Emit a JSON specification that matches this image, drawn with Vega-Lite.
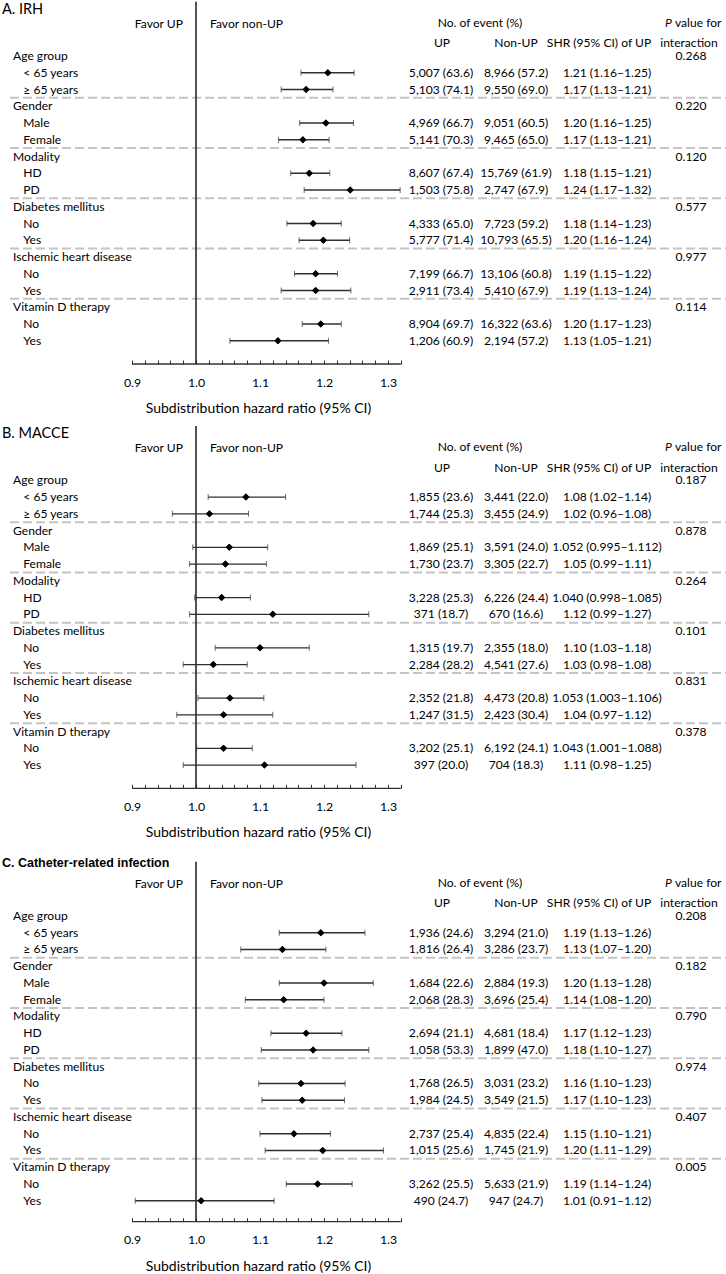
{
"$schema":"https://vega.github.io/schema/vega-lite/v6.json",
"padding":0,
"background":"white",
"spacing":61.3,
"bounds":"flush",
"config":{"view":{"stroke":null},"text":{"font":"Lato","fontSize":12.1,"baseline":"middle","color":"#000"},"axis":{"labelOverlap":false,"labelFlush":false,"grid":false,"domain":false,"ticks":true,"tickSize":-4,"tickColor":"#333","tickWidth":1,"labelPadding":16,"labelFont":"Lato","labelFontSize":12.3,"labelColor":"#000","titleFont":"Lato","titleFontSize":14,"titleFontWeight":"normal","titleColor":"#000","titlePadding":13}},
"datasets":{
"irh":[
{"k":0,"type":"group","label":"Age group","p":"0.268"},
{"k":1,"type":"sub","label":"< 65 years","up":"5,007 (63.6)","nonup":"8,966 (57.2)","shr":"1.21 (1.16–1.25)","est":1.206,"lo":1.164,"hi":1.247},
{"k":2,"type":"sub","label":"≥ 65 years","up":"5,103 (74.1)","nonup":"9,550 (69.0)","shr":"1.17 (1.13–1.21)","est":1.172,"lo":1.133,"hi":1.214},
{"k":3,"type":"group","label":"Gender","p":"0.220"},
{"k":4,"type":"sub","label":"Male","up":"4,969 (66.7)","nonup":"9,051 (60.5)","shr":"1.20 (1.16–1.25)","est":1.203,"lo":1.162,"hi":1.246},
{"k":5,"type":"sub","label":"Female","up":"5,141 (70.3)","nonup":"9,465 (65.0)","shr":"1.17 (1.13–1.21)","est":1.167,"lo":1.129,"hi":1.208},
{"k":6,"type":"group","label":"Modality","p":"0.120"},
{"k":7,"type":"sub","label":"HD","up":"8,607 (67.4)","nonup":"15,769 (61.9)","shr":"1.18 (1.15–1.21)","est":1.177,"lo":1.148,"hi":1.209},
{"k":8,"type":"sub","label":"PD","up":"1,503 (75.8)","nonup":"2,747 (67.9)","shr":"1.24 (1.17–1.32)","est":1.241,"lo":1.169,"hi":1.319},
{"k":9,"type":"group","label":"Diabetes mellitus","p":"0.577"},
{"k":10,"type":"sub","label":"No","up":"4,333 (65.0)","nonup":"7,723 (59.2)","shr":"1.18 (1.14–1.23)","est":1.183,"lo":1.142,"hi":1.227},
{"k":11,"type":"sub","label":"Yes","up":"5,777 (71.4)","nonup":"10,793 (65.5)","shr":"1.20 (1.16–1.24)","est":1.199,"lo":1.161,"hi":1.240},
{"k":12,"type":"group","label":"Ischemic heart disease","p":"0.977"},
{"k":13,"type":"sub","label":"No","up":"7,199 (66.7)","nonup":"13,106 (60.8)","shr":"1.19 (1.15–1.22)","est":1.187,"lo":1.154,"hi":1.221},
{"k":14,"type":"sub","label":"Yes","up":"2,911 (73.4)","nonup":"5,410 (67.9)","shr":"1.19 (1.13–1.24)","est":1.187,"lo":1.133,"hi":1.242},
{"k":15,"type":"group","label":"Vitamin D therapy","p":"0.114"},
{"k":16,"type":"sub","label":"No","up":"8,904 (69.7)","nonup":"16,322 (63.6)","shr":"1.20 (1.17–1.23)","est":1.195,"lo":1.166,"hi":1.227},
{"k":17,"type":"sub","label":"Yes","up":"1,206 (60.9)","nonup":"2,194 (57.2)","shr":"1.13 (1.05–1.21)","est":1.128,"lo":1.053,"hi":1.207}
],
"macce":[
{"k":0,"type":"group","label":"Age group","p":"0.187"},
{"k":1,"type":"sub","label":"< 65 years","up":"1,855 (23.6)","nonup":"3,441 (22.0)","shr":"1.08 (1.02–1.14)","est":1.078,"lo":1.019,"hi":1.140},
{"k":2,"type":"sub","label":"≥ 65 years","up":"1,744 (25.3)","nonup":"3,455 (24.9)","shr":"1.02 (0.96–1.08)","est":1.021,"lo":0.963,"hi":1.082},
{"k":3,"type":"group","label":"Gender","p":"0.878"},
{"k":4,"type":"sub","label":"Male","up":"1,869 (25.1)","nonup":"3,591 (24.0)","shr":"1.052 (0.995–1.112)","est":1.052,"lo":0.995,"hi":1.112},
{"k":5,"type":"sub","label":"Female","up":"1,730 (23.7)","nonup":"3,305 (22.7)","shr":"1.05 (0.99–1.11)","est":1.046,"lo":0.99,"hi":1.11},
{"k":6,"type":"group","label":"Modality","p":"0.264"},
{"k":7,"type":"sub","label":"HD","up":"3,228 (25.3)","nonup":"6,226 (24.4)","shr":"1.040 (0.998–1.085)","est":1.040,"lo":0.998,"hi":1.085},
{"k":8,"type":"sub","label":"PD","up":"371 (18.7)","nonup":"670 (16.6)","shr":"1.12 (0.99–1.27)","est":1.12,"lo":0.99,"hi":1.27},
{"k":9,"type":"group","label":"Diabetes mellitus","p":"0.101"},
{"k":10,"type":"sub","label":"No","up":"1,315 (19.7)","nonup":"2,355 (18.0)","shr":"1.10 (1.03–1.18)","est":1.10,"lo":1.03,"hi":1.177},
{"k":11,"type":"sub","label":"Yes","up":"2,284 (28.2)","nonup":"4,541 (27.6)","shr":"1.03 (0.98–1.08)","est":1.027,"lo":0.98,"hi":1.08},
{"k":12,"type":"group","label":"Ischemic heart disease","p":"0.831"},
{"k":13,"type":"sub","label":"No","up":"2,352 (21.8)","nonup":"4,473 (20.8)","shr":"1.053 (1.003–1.106)","est":1.053,"lo":1.003,"hi":1.106},
{"k":14,"type":"sub","label":"Yes","up":"1,247 (31.5)","nonup":"2,423 (30.4)","shr":"1.04 (0.97–1.12)","est":1.043,"lo":0.97,"hi":1.12},
{"k":15,"type":"group","label":"Vitamin D therapy","p":"0.378"},
{"k":16,"type":"sub","label":"No","up":"3,202 (25.1)","nonup":"6,192 (24.1)","shr":"1.043 (1.001–1.088)","est":1.043,"lo":1.001,"hi":1.088},
{"k":17,"type":"sub","label":"Yes","up":"397 (20.0)","nonup":"704 (18.3)","shr":"1.11 (0.98–1.25)","est":1.107,"lo":0.98,"hi":1.25}
],
"cri":[
{"k":0,"type":"group","label":"Age group","p":"0.208"},
{"k":1,"type":"sub","label":"< 65 years","up":"1,936 (24.6)","nonup":"3,294 (21.0)","shr":"1.19 (1.13–1.26)","est":1.195,"lo":1.130,"hi":1.264},
{"k":2,"type":"sub","label":"≥ 65 years","up":"1,816 (26.4)","nonup":"3,286 (23.7)","shr":"1.13 (1.07–1.20)","est":1.135,"lo":1.070,"hi":1.203},
{"k":3,"type":"group","label":"Gender","p":"0.182"},
{"k":4,"type":"sub","label":"Male","up":"1,684 (22.6)","nonup":"2,884 (19.3)","shr":"1.20 (1.13–1.28)","est":1.20,"lo":1.13,"hi":1.277},
{"k":5,"type":"sub","label":"Female","up":"2,068 (28.3)","nonup":"3,696 (25.4)","shr":"1.14 (1.08–1.20)","est":1.137,"lo":1.077,"hi":1.20},
{"k":6,"type":"group","label":"Modality","p":"0.790"},
{"k":7,"type":"sub","label":"HD","up":"2,694 (21.1)","nonup":"4,681 (18.4)","shr":"1.17 (1.12–1.23)","est":1.172,"lo":1.117,"hi":1.228},
{"k":8,"type":"sub","label":"PD","up":"1,058 (53.3)","nonup":"1,899 (47.0)","shr":"1.18 (1.10–1.27)","est":1.183,"lo":1.102,"hi":1.27},
{"k":9,"type":"group","label":"Diabetes mellitus","p":"0.974"},
{"k":10,"type":"sub","label":"No","up":"1,768 (26.5)","nonup":"3,031 (23.2)","shr":"1.16 (1.10–1.23)","est":1.164,"lo":1.098,"hi":1.233},
{"k":11,"type":"sub","label":"Yes","up":"1,984 (24.5)","nonup":"3,549 (21.5)","shr":"1.17 (1.10–1.23)","est":1.166,"lo":1.103,"hi":1.232},
{"k":12,"type":"group","label":"Ischemic heart disease","p":"0.407"},
{"k":13,"type":"sub","label":"No","up":"2,737 (25.4)","nonup":"4,835 (22.4)","shr":"1.15 (1.10–1.21)","est":1.153,"lo":1.10,"hi":1.21},
{"k":14,"type":"sub","label":"Yes","up":"1,015 (25.6)","nonup":"1,745 (21.9)","shr":"1.20 (1.11–1.29)","est":1.198,"lo":1.108,"hi":1.293},
{"k":15,"type":"group","label":"Vitamin D therapy","p":"0.005"},
{"k":16,"type":"sub","label":"No","up":"3,262 (25.5)","nonup":"5,633 (21.9)","shr":"1.19 (1.14–1.24)","est":1.190,"lo":1.141,"hi":1.244},
{"k":17,"type":"sub","label":"Yes","up":"490 (24.7)","nonup":"947 (24.7)","shr":"1.01 (0.91–1.12)","est":1.008,"lo":0.905,"hi":1.122}
]
},
"vconcat":[
{
"width":726,"height":363,
"data":{"name":"irh"},
"layer":[
{"transform":[{"filter":"datum.type=='sub'"}],"mark":{"type":"point","shape":"diamond","filled":true,"color":"#000","size":50,"opacity":1},"encoding":{"x":{"field":"est","type":"quantitative","scale":{"domain":[0.69375,1.828125],"nice":false,"zero":false},"axis":{"values":[0.9,0.92,0.94,0.96,0.98,1,1.02,1.04,1.06,1.08,1.1,1.12,1.14,1.16,1.18,1.2,1.22,1.24,1.26,1.28,1.3,1.32],"tickCount":60,"labelExpr":"abs(datum.value*10-round(datum.value*10))<0.001 ? format(datum.value,'.1f') : ''","labelOverlap":false,"tickSize":-4,"title":"Subdistribution hazard ratio (95% CI)","titleX":258}},"y":{"field":"k","type":"quantitative","scale":{"domain":[-3.284,18.388],"nice":false,"zero":false,"reverse":true},"axis":null}}},
{"transform":[{"filter":"datum.type=='group' && datum.k>0"}],"mark":{"type":"rule","color":"#c4c4c4","strokeWidth":2,"strokeDash":[9,4],"yOffset":-8.4},"encoding":{"x":{"datum":0.709375,"type":"quantitative"},"x2":{"datum":1.828125},"y":{"field":"k","type":"quantitative","axis":null}}},
{"data":{"values":[{}]},"mark":{"type":"rule","color":"#1a1a1a","strokeWidth":1.5},"encoding":{"x":{"datum":1,"type":"quantitative"},"y":{"datum":-3.24,"type":"quantitative","axis":null},"y2":{"datum":18.388}}},
{"data":{"values":[{}]},"mark":{"type":"rule","color":"#333","strokeWidth":1.3},"encoding":{"x":{"datum":0.9,"type":"quantitative"},"x2":{"datum":1.32},"y":{"datum":18.388,"type":"quantitative","axis":null}}},
{"transform":[{"filter":"datum.type=='sub'"}],"mark":{"type":"errorbar","color":"#303030","ticks":{"size":6},"rule":{"strokeWidth":1.3}},"encoding":{"x":{"field":"lo","type":"quantitative","title":"Subdistribution hazard ratio (95% CI)"},"x2":{"field":"hi"},"y":{"field":"k","type":"quantitative","axis":null}}},
{"transform":[{"filter":"datum.type=='sub'"}],"mark":{"type":"point","shape":"diamond","filled":true,"color":"#000","size":50,"opacity":1},"encoding":{"x":{"field":"est","type":"quantitative","title":"Subdistribution hazard ratio (95% CI)"},"y":{"field":"k","type":"quantitative","axis":null}}},
{"transform":[{"filter":"datum.type=='group'"}],"mark":{"type":"text","align":"left"},"encoding":{"x":{"datum":0.7140625,"type":"quantitative"},"y":{"field":"k","type":"quantitative","axis":null},"text":{"field":"label"}}},
{"transform":[{"filter":"datum.type=='sub'"}],"mark":{"type":"text","align":"left"},"encoding":{"x":{"datum":0.73016,"type":"quantitative"},"y":{"field":"k","type":"quantitative","axis":null},"text":{"field":"label"}}},
{"transform":[{"filter":"datum.type=='sub'"}],"mark":{"type":"text","align":"center"},"encoding":{"x":{"datum":1.38281,"type":"quantitative"},"y":{"field":"k","type":"quantitative","axis":null},"text":{"field":"up"}}},
{"transform":[{"filter":"datum.type=='sub'"}],"mark":{"type":"text","align":"center"},"encoding":{"x":{"datum":1.5,"type":"quantitative"},"y":{"field":"k","type":"quantitative","axis":null},"text":{"field":"nonup"}}},
{"transform":[{"filter":"datum.type=='sub'"}],"mark":{"type":"text","align":"center"},"encoding":{"x":{"datum":1.64219,"type":"quantitative"},"y":{"field":"k","type":"quantitative","axis":null},"text":{"field":"shr"}}},
{"transform":[{"filter":"datum.type=='group'"}],"mark":{"type":"text","align":"center"},"encoding":{"x":{"datum":1.77344,"type":"quantitative"},"y":{"field":"k","type":"quantitative","axis":null},"text":{"field":"p"}}},
{"data":{"values":[{}]},"mark":{"type":"text","align":"left","text":"A. IRH","fontSize":14.5},"encoding":{"x":{"datum":0.696875,"type":"quantitative"},"y":{"datum":-2.746,"type":"quantitative","axis":null}}},
{"data":{"values":[{}]},"mark":{"type":"text","align":"right","text":"Favor UP"},"encoding":{"x":{"datum":0.97969,"type":"quantitative"},"y":{"datum":-1.91,"type":"quantitative","axis":null}}},
{"data":{"values":[{}]},"mark":{"type":"text","align":"left","text":"Favor non-UP"},"encoding":{"x":{"datum":1.02188,"type":"quantitative"},"y":{"datum":-1.91,"type":"quantitative","axis":null}}},
{"data":{"values":[{}]},"mark":{"type":"text","align":"center","text":"No. of event (%)"},"encoding":{"x":{"datum":1.44375,"type":"quantitative"},"y":{"datum":-1.97,"type":"quantitative","axis":null}}},
{"data":{"values":[{}]},"mark":{"type":"text","align":"center","text":"UP"},"encoding":{"x":{"datum":1.38438,"type":"quantitative"},"y":{"datum":-0.75,"type":"quantitative","axis":null}}},
{"data":{"values":[{}]},"mark":{"type":"text","align":"center","text":"Non-UP"},"encoding":{"x":{"datum":1.5,"type":"quantitative"},"y":{"datum":-0.75,"type":"quantitative","axis":null}}},
{"data":{"values":[{}]},"mark":{"type":"text","align":"center","text":"SHR (95% CI) of UP"},"encoding":{"x":{"datum":1.6297,"type":"quantitative"},"y":{"datum":-0.75,"type":"quantitative","axis":null}}},
{"data":{"values":[{}]},"mark":{"type":"text","align":"left","text":"P","fontStyle":"italic"},"encoding":{"x":{"datum":1.73281,"type":"quantitative"},"y":{"datum":-1.97,"type":"quantitative","axis":null}}},
{"data":{"values":[{}]},"mark":{"type":"text","align":"left","text":"value for"},"encoding":{"x":{"datum":1.74844,"type":"quantitative"},"y":{"datum":-1.97,"type":"quantitative","axis":null}}},
{"data":{"values":[{}]},"mark":{"type":"text","align":"center","text":"interaction"},"encoding":{"x":{"datum":1.7703,"type":"quantitative"},"y":{"datum":-0.75,"type":"quantitative","axis":null}}}
]
},
{
"width":726,"height":363,
"data":{"name":"macce"},
"layer":[
{"transform":[{"filter":"datum.type=='sub'"}],"mark":{"type":"point","shape":"diamond","filled":true,"color":"#000","size":50,"opacity":1},"encoding":{"x":{"field":"est","type":"quantitative","scale":{"domain":[0.69375,1.828125],"nice":false,"zero":false},"axis":{"values":[0.9,0.92,0.94,0.96,0.98,1,1.02,1.04,1.06,1.08,1.1,1.12,1.14,1.16,1.18,1.2,1.22,1.24,1.26,1.28,1.3,1.32],"tickCount":60,"labelExpr":"abs(datum.value*10-round(datum.value*10))<0.001 ? format(datum.value,'.1f') : ''","labelOverlap":false,"tickSize":-4,"title":"Subdistribution hazard ratio (95% CI)","titleX":258}},"y":{"field":"k","type":"quantitative","scale":{"domain":[-3.284,18.388],"nice":false,"zero":false,"reverse":true},"axis":null}}},
{"transform":[{"filter":"datum.type=='group' && datum.k>0"}],"mark":{"type":"rule","color":"#c4c4c4","strokeWidth":2,"strokeDash":[9,4],"yOffset":-8.4},"encoding":{"x":{"datum":0.709375,"type":"quantitative"},"x2":{"datum":1.828125},"y":{"field":"k","type":"quantitative","axis":null}}},
{"data":{"values":[{}]},"mark":{"type":"rule","color":"#1a1a1a","strokeWidth":1.5},"encoding":{"x":{"datum":1,"type":"quantitative"},"y":{"datum":-3.24,"type":"quantitative","axis":null},"y2":{"datum":18.388}}},
{"data":{"values":[{}]},"mark":{"type":"rule","color":"#333","strokeWidth":1.3},"encoding":{"x":{"datum":0.9,"type":"quantitative"},"x2":{"datum":1.32},"y":{"datum":18.388,"type":"quantitative","axis":null}}},
{"transform":[{"filter":"datum.type=='sub'"}],"mark":{"type":"errorbar","color":"#303030","ticks":{"size":6},"rule":{"strokeWidth":1.3}},"encoding":{"x":{"field":"lo","type":"quantitative","title":"Subdistribution hazard ratio (95% CI)"},"x2":{"field":"hi"},"y":{"field":"k","type":"quantitative","axis":null}}},
{"transform":[{"filter":"datum.type=='sub'"}],"mark":{"type":"point","shape":"diamond","filled":true,"color":"#000","size":50,"opacity":1},"encoding":{"x":{"field":"est","type":"quantitative","title":"Subdistribution hazard ratio (95% CI)"},"y":{"field":"k","type":"quantitative","axis":null}}},
{"transform":[{"filter":"datum.type=='group'"}],"mark":{"type":"text","align":"left"},"encoding":{"x":{"datum":0.7140625,"type":"quantitative"},"y":{"field":"k","type":"quantitative","axis":null},"text":{"field":"label"}}},
{"transform":[{"filter":"datum.type=='sub'"}],"mark":{"type":"text","align":"left"},"encoding":{"x":{"datum":0.73016,"type":"quantitative"},"y":{"field":"k","type":"quantitative","axis":null},"text":{"field":"label"}}},
{"transform":[{"filter":"datum.type=='sub'"}],"mark":{"type":"text","align":"center"},"encoding":{"x":{"datum":1.38281,"type":"quantitative"},"y":{"field":"k","type":"quantitative","axis":null},"text":{"field":"up"}}},
{"transform":[{"filter":"datum.type=='sub'"}],"mark":{"type":"text","align":"center"},"encoding":{"x":{"datum":1.5,"type":"quantitative"},"y":{"field":"k","type":"quantitative","axis":null},"text":{"field":"nonup"}}},
{"transform":[{"filter":"datum.type=='sub'"}],"mark":{"type":"text","align":"center"},"encoding":{"x":{"datum":1.64219,"type":"quantitative"},"y":{"field":"k","type":"quantitative","axis":null},"text":{"field":"shr"}}},
{"transform":[{"filter":"datum.type=='group'"}],"mark":{"type":"text","align":"center"},"encoding":{"x":{"datum":1.77344,"type":"quantitative"},"y":{"field":"k","type":"quantitative","axis":null},"text":{"field":"p"}}},
{"data":{"values":[{}]},"mark":{"type":"text","align":"left","text":"B. MACCE","fontSize":14.5},"encoding":{"x":{"datum":0.696875,"type":"quantitative"},"y":{"datum":-2.746,"type":"quantitative","axis":null}}},
{"data":{"values":[{}]},"mark":{"type":"text","align":"right","text":"Favor UP"},"encoding":{"x":{"datum":0.97969,"type":"quantitative"},"y":{"datum":-1.91,"type":"quantitative","axis":null}}},
{"data":{"values":[{}]},"mark":{"type":"text","align":"left","text":"Favor non-UP"},"encoding":{"x":{"datum":1.02188,"type":"quantitative"},"y":{"datum":-1.91,"type":"quantitative","axis":null}}},
{"data":{"values":[{}]},"mark":{"type":"text","align":"center","text":"No. of event (%)"},"encoding":{"x":{"datum":1.44375,"type":"quantitative"},"y":{"datum":-1.97,"type":"quantitative","axis":null}}},
{"data":{"values":[{}]},"mark":{"type":"text","align":"center","text":"UP"},"encoding":{"x":{"datum":1.38438,"type":"quantitative"},"y":{"datum":-0.75,"type":"quantitative","axis":null}}},
{"data":{"values":[{}]},"mark":{"type":"text","align":"center","text":"Non-UP"},"encoding":{"x":{"datum":1.5,"type":"quantitative"},"y":{"datum":-0.75,"type":"quantitative","axis":null}}},
{"data":{"values":[{}]},"mark":{"type":"text","align":"center","text":"SHR (95% CI) of UP"},"encoding":{"x":{"datum":1.6297,"type":"quantitative"},"y":{"datum":-0.75,"type":"quantitative","axis":null}}},
{"data":{"values":[{}]},"mark":{"type":"text","align":"left","text":"P","fontStyle":"italic"},"encoding":{"x":{"datum":1.73281,"type":"quantitative"},"y":{"datum":-1.97,"type":"quantitative","axis":null}}},
{"data":{"values":[{}]},"mark":{"type":"text","align":"left","text":"value for"},"encoding":{"x":{"datum":1.74844,"type":"quantitative"},"y":{"datum":-1.97,"type":"quantitative","axis":null}}},
{"data":{"values":[{}]},"mark":{"type":"text","align":"center","text":"interaction"},"encoding":{"x":{"datum":1.7703,"type":"quantitative"},"y":{"datum":-0.75,"type":"quantitative","axis":null}}}
]
},
{
"width":726,"height":372.1,
"data":{"name":"cri"},
"layer":[
{"transform":[{"filter":"datum.type=='sub'"}],"mark":{"type":"point","shape":"diamond","filled":true,"color":"#000","size":50,"opacity":1},"encoding":{"x":{"field":"est","type":"quantitative","scale":{"domain":[0.69375,1.828125],"nice":false,"zero":false},"axis":{"values":[0.9,0.92,0.94,0.96,0.98,1,1.02,1.04,1.06,1.08,1.1,1.12,1.14,1.16,1.18,1.2,1.22,1.24,1.26,1.28,1.3,1.32],"tickCount":60,"labelExpr":"abs(datum.value*10-round(datum.value*10))<0.001 ? format(datum.value,'.1f') : ''","labelOverlap":false,"tickSize":-4,"title":"Subdistribution hazard ratio (95% CI)","titleX":258}},"y":{"field":"k","type":"quantitative","scale":{"domain":[-3.964,18.251],"nice":false,"zero":false,"reverse":true},"axis":null}}},
{"transform":[{"filter":"datum.type=='group' && datum.k>0"}],"mark":{"type":"rule","color":"#c4c4c4","strokeWidth":2,"strokeDash":[9,4],"yOffset":-8.4},"encoding":{"x":{"datum":0.709375,"type":"quantitative"},"x2":{"datum":1.828125},"y":{"field":"k","type":"quantitative","axis":null}}},
{"data":{"values":[{}]},"mark":{"type":"rule","color":"#1a1a1a","strokeWidth":1.5},"encoding":{"x":{"datum":1,"type":"quantitative"},"y":{"datum":-3.24,"type":"quantitative","axis":null},"y2":{"datum":18.251}}},
{"data":{"values":[{}]},"mark":{"type":"rule","color":"#333","strokeWidth":1.3},"encoding":{"x":{"datum":0.9,"type":"quantitative"},"x2":{"datum":1.32},"y":{"datum":18.251,"type":"quantitative","axis":null}}},
{"transform":[{"filter":"datum.type=='sub'"}],"mark":{"type":"errorbar","color":"#303030","ticks":{"size":6},"rule":{"strokeWidth":1.3}},"encoding":{"x":{"field":"lo","type":"quantitative","title":"Subdistribution hazard ratio (95% CI)"},"x2":{"field":"hi"},"y":{"field":"k","type":"quantitative","axis":null}}},
{"transform":[{"filter":"datum.type=='sub'"}],"mark":{"type":"point","shape":"diamond","filled":true,"color":"#000","size":50,"opacity":1},"encoding":{"x":{"field":"est","type":"quantitative","title":"Subdistribution hazard ratio (95% CI)"},"y":{"field":"k","type":"quantitative","axis":null}}},
{"transform":[{"filter":"datum.type=='group'"}],"mark":{"type":"text","align":"left"},"encoding":{"x":{"datum":0.7140625,"type":"quantitative"},"y":{"field":"k","type":"quantitative","axis":null},"text":{"field":"label"}}},
{"transform":[{"filter":"datum.type=='sub'"}],"mark":{"type":"text","align":"left"},"encoding":{"x":{"datum":0.73016,"type":"quantitative"},"y":{"field":"k","type":"quantitative","axis":null},"text":{"field":"label"}}},
{"transform":[{"filter":"datum.type=='sub'"}],"mark":{"type":"text","align":"center"},"encoding":{"x":{"datum":1.38281,"type":"quantitative"},"y":{"field":"k","type":"quantitative","axis":null},"text":{"field":"up"}}},
{"transform":[{"filter":"datum.type=='sub'"}],"mark":{"type":"text","align":"center"},"encoding":{"x":{"datum":1.5,"type":"quantitative"},"y":{"field":"k","type":"quantitative","axis":null},"text":{"field":"nonup"}}},
{"transform":[{"filter":"datum.type=='sub'"}],"mark":{"type":"text","align":"center"},"encoding":{"x":{"datum":1.64219,"type":"quantitative"},"y":{"field":"k","type":"quantitative","axis":null},"text":{"field":"shr"}}},
{"transform":[{"filter":"datum.type=='group'"}],"mark":{"type":"text","align":"center"},"encoding":{"x":{"datum":1.77344,"type":"quantitative"},"y":{"field":"k","type":"quantitative","axis":null},"text":{"field":"p"}}},
{"data":{"values":[{}]},"mark":{"type":"text","align":"left","text":"C. Catheter-related infection","font":"Liberation Sans","fontWeight":"bold","fontSize":12.5},"encoding":{"x":{"datum":0.696875,"type":"quantitative"},"y":{"datum":-3.18,"type":"quantitative","axis":null}}},
{"data":{"values":[{}]},"mark":{"type":"text","align":"right","text":"Favor UP"},"encoding":{"x":{"datum":0.97969,"type":"quantitative"},"y":{"datum":-1.91,"type":"quantitative","axis":null}}},
{"data":{"values":[{}]},"mark":{"type":"text","align":"left","text":"Favor non-UP"},"encoding":{"x":{"datum":1.02188,"type":"quantitative"},"y":{"datum":-1.91,"type":"quantitative","axis":null}}},
{"data":{"values":[{}]},"mark":{"type":"text","align":"center","text":"No. of event (%)"},"encoding":{"x":{"datum":1.44375,"type":"quantitative"},"y":{"datum":-1.97,"type":"quantitative","axis":null}}},
{"data":{"values":[{}]},"mark":{"type":"text","align":"center","text":"UP"},"encoding":{"x":{"datum":1.38438,"type":"quantitative"},"y":{"datum":-0.75,"type":"quantitative","axis":null}}},
{"data":{"values":[{}]},"mark":{"type":"text","align":"center","text":"Non-UP"},"encoding":{"x":{"datum":1.5,"type":"quantitative"},"y":{"datum":-0.75,"type":"quantitative","axis":null}}},
{"data":{"values":[{}]},"mark":{"type":"text","align":"center","text":"SHR (95% CI) of UP"},"encoding":{"x":{"datum":1.6297,"type":"quantitative"},"y":{"datum":-0.75,"type":"quantitative","axis":null}}},
{"data":{"values":[{}]},"mark":{"type":"text","align":"left","text":"P","fontStyle":"italic"},"encoding":{"x":{"datum":1.73281,"type":"quantitative"},"y":{"datum":-1.97,"type":"quantitative","axis":null}}},
{"data":{"values":[{}]},"mark":{"type":"text","align":"left","text":"value for"},"encoding":{"x":{"datum":1.74844,"type":"quantitative"},"y":{"datum":-1.97,"type":"quantitative","axis":null}}},
{"data":{"values":[{}]},"mark":{"type":"text","align":"center","text":"interaction"},"encoding":{"x":{"datum":1.7703,"type":"quantitative"},"y":{"datum":-0.75,"type":"quantitative","axis":null}}}
]
}
]
}
